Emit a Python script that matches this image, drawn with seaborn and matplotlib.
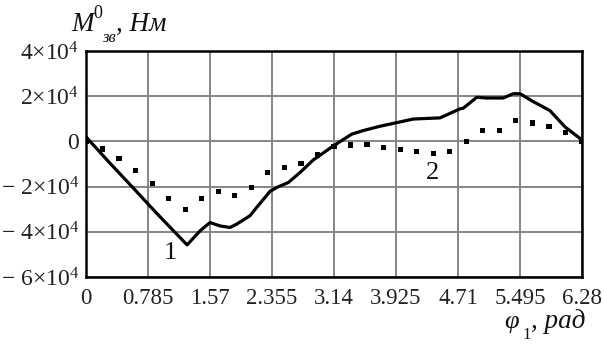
import matplotlib
matplotlib.use("Agg")
import matplotlib.pyplot as plt
import seaborn as sns
import pandas as pd
import numpy as np

# ---- data ----
phi_line = [0.0, 0.30, 0.60, 0.90, 1.28, 1.443, 1.570, 1.697, 1.823, 1.908, 2.076, 2.178,
            2.330, 2.414, 2.561, 2.709, 2.878, 3.127, 3.364, 3.511, 3.722, 3.934, 4.144,
            4.482, 4.735, 4.777, 4.947, 5.073, 5.283, 5.410, 5.495, 5.663, 5.875, 6.065,
            6.255, 6.28]
m_line = [2000, -9500, -20700, -32000, -45800, -39600, -35900, -37400, -38100, -36600,
          -32900, -28500, -22100, -20400, -18200, -13800, -8200, -2100, 3200, 4800, 6700,
          8300, 9900, 10400, 14400, 14700, 19500, 19200, 19200, 21100, 21100, 17600, 13600,
          6400, 1300, 500]

phi_dots = [0.0, 0.209, 0.419, 0.628, 0.837, 1.047, 1.256, 1.465, 1.675, 1.884, 2.093,
            2.303, 2.512, 2.721, 2.931, 3.140, 3.349, 3.559, 3.768, 3.977, 4.187, 4.396,
            4.605, 4.815, 5.024, 5.233, 5.443, 5.652, 5.861, 6.071, 6.280]
m_dots = [0, -3400, -7400, -13000, -18600, -25300, -30100, -25300, -22000, -23800, -20300,
          -13800, -11600, -9900, -6000, -2200, -1600, -1300, -2800, -3700, -4500, -5200,
          -4500, -100, 4700, 4700, 9100, 8100, 6600, 3900, 0]

x_ticks = [0, 0.785, 1.57, 2.355, 3.14, 3.925, 4.71, 5.495, 6.28]
x_tick_labels = ["0", "0.785", "1.57", "2.355", "3.14", "3.925", "4.71", "5.495", "6.28"]
y_ticks = [-60000, -40000, -20000, 0, 20000, 40000]
y_tick_labels = ["\u2212 6\u00d710$^{4}$", "\u2212 4\u00d710$^{4}$", "\u2212 2\u00d710$^{4}$",
                 "0", "2\u00d710$^{4}$", "4\u00d710$^{4}$"]

sns.set_style("white")
plt.rcParams['font.family'] = ['Liberation Serif', 'DejaVu Serif']
plt.rcParams['mathtext.fontset'] = 'custom'
plt.rcParams['mathtext.rm'] = 'Liberation Serif'
plt.rcParams['mathtext.it'] = 'Liberation Serif:italic'

W, H = 604, 345
fig = plt.figure(figsize=(W / 100, H / 100), dpi=100)
ax = fig.add_axes([86 / W, 1 - 277 / H, (582 - 86) / W, (277 - 51) / H])

df_line = pd.DataFrame({"phi": phi_line, "M": m_line})
df_dots = pd.DataFrame({"phi": phi_dots, "M": m_dots})

ax.grid(True, color="#858585", linewidth=1.4)
ax.set_axisbelow(True)
sns.scatterplot(data=df_dots, x="phi", y="M", ax=ax, marker="s", s=14, color="black",
                edgecolor="none", zorder=3)
sns.lineplot(data=df_line, x="phi", y="M", ax=ax, color="black", linewidth=2.3,
             sort=False, zorder=4)

ax.set_xlim(0, 6.28)
ax.set_ylim(-60000, 40000)
ax.set_xticks(x_ticks)
ax.set_xticklabels(x_tick_labels)
ax.set_yticks(y_ticks)
ax.set_yticklabels(y_tick_labels)
ax.tick_params(axis="both", length=0, labelcolor="#222222")
ax.tick_params(axis="x", pad=8, labelsize=16.5)
ax.tick_params(axis="y", pad=5, labelsize=17)
ax.set_xlabel("")
ax.set_ylabel("")
for sp in ax.spines.values():
    sp.set_visible(True)
    sp.set_color("black")
    sp.set_linewidth(1.8)

# curve labels
ax.text(1.065, -49500, "1", fontsize=19, ha="center", va="center", color="#111111")
ax.text(4.39, -14000, "2", fontsize=19, ha="center", va="center", color="#111111")

def ft(px, py, s, **kw):
    fig.text(px / W, 1 - py / H, s, va="baseline", ha="left", color="#111111", **kw)

# y-axis title
ft(71, 31, "M", fontsize=19.5, style="italic")
ft(93, 18, "0", fontsize=13)
ft(102, 42, "зв", fontsize=12, style="italic")
ft(116, 31, ", Нм", fontsize=19.5, style="italic")

# x-axis title
ft(504, 328, "\u03c6", fontsize=19, style="italic")
ft(522, 339, "1", fontsize=12)
ft(531, 328, ", рад", fontsize=19.5, style="italic")

fig.savefig("out.png", dpi=100)
